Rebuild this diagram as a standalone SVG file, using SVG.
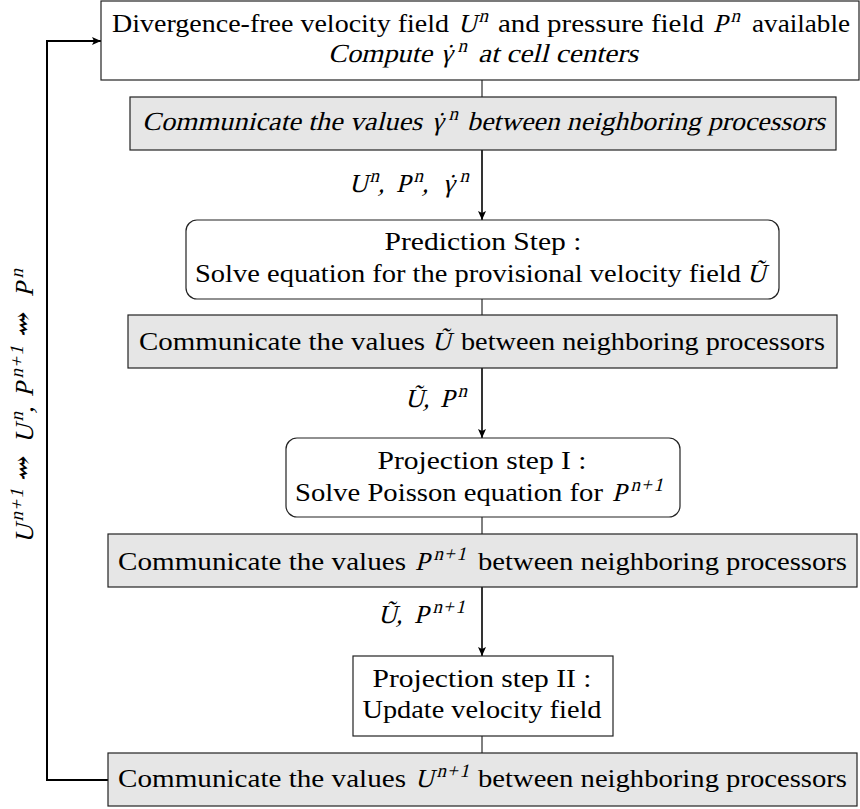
<svg xmlns="http://www.w3.org/2000/svg" width="860" height="809" viewBox="0 0 860 809">
<defs>
<marker id="ah" markerWidth="10" markerHeight="10" refX="9" refY="5" orient="auto" markerUnits="userSpaceOnUse">
<path d="M0,1 L9,5 L0,9 L2,5 z" fill="#000"/>
</marker>
<style>
.box{fill:#fff;stroke:#222;stroke-width:1.2}
.gray{fill:#e6e6e6;stroke:#222;stroke-width:1.2}
text{font-family:"Liberation Serif","DejaVu Serif",serif;font-size:26px;fill:#000}
.c{text-anchor:middle}
.s{font-size:19px}
.sq{font-size:30px}
.thin{stroke:#000;stroke-width:1;fill:none}
.arr{stroke:#000;stroke-width:1.6;fill:none;marker-end:url(#ah)}
.loop{stroke:#000;stroke-width:2;fill:none;marker-end:url(#ah)}
</style>
</defs>
<rect width="860" height="809" fill="#fff"/>

<g id="connectors">
<line class="thin" x1="482" y1="80" x2="482" y2="97"/>
<line class="arr" x1="482" y1="150" x2="482" y2="220"/>
<line class="thin" x1="482" y1="299" x2="482" y2="315"/>
<line class="arr" x1="482" y1="368" x2="482" y2="438"/>
<line class="thin" x1="482" y1="517" x2="482" y2="534"/>
<line class="arr" x1="482" y1="587" x2="482" y2="656"/>
<line class="thin" x1="482" y1="736" x2="482" y2="753"/>
<polyline class="loop" points="108,780 47,780 47,41 101,41"/>
<text transform="translate(0,192) skewX(-14)"><tspan x="349">U</tspan><tspan class="s" x="367" dy="-10">n</tspan><tspan x="378" dy="10">,</tspan><tspan x="396">P</tspan><tspan class="s" x="411" dy="-10">n</tspan><tspan x="422" dy="10">,</tspan><tspan x="443">γ</tspan><tspan dx="-9.5">˙</tspan><tspan class="s" x="457" dy="-10">n</tspan></text>
<text transform="translate(0,407) skewX(-14)"><tspan x="405">Ũ</tspan><tspan x="423">,</tspan><tspan x="440">P</tspan><tspan class="s" x="455" dy="-10">n</tspan></text>
<text transform="translate(0,623) skewX(-14)"><tspan x="378">Ũ</tspan><tspan x="396">,</tspan><tspan x="414">P</tspan><tspan class="s" x="430 440.5 453" dy="-10">n+1</tspan></text>
<text transform="translate(33,543) rotate(-90) skewX(-14)"><tspan x="0">U</tspan><tspan class="s" x="19 29.5 42" dy="-10">n+1</tspan><tspan class="sq" x="60" dy="10">⇝</tspan><tspan x="100">U</tspan><tspan class="s" x="119" dy="-10">n</tspan><tspan x="130" dy="10">,</tspan><tspan x="146">P</tspan><tspan class="s" x="162 172.5 185" dy="-10">n+1</tspan><tspan class="sq" x="204" dy="10">⇝</tspan><tspan x="246">P</tspan><tspan class="s" x="262" dy="-10">n</tspan></text>
</g>

<g id="start">
<rect class="box" x="101" y="1" width="758" height="79"/>
<text x="112" y="32" textLength="337" lengthAdjust="spacingAndGlyphs">Divergence-free velocity field</text>
<text transform="translate(458,32) skewX(-14)">U<tspan class="s" x="18" dy="-10">n</tspan></text>
<text x="498" y="32" textLength="206" lengthAdjust="spacingAndGlyphs">and pressure field</text>
<text transform="translate(713,32) skewX(-14)">P<tspan class="s" x="15" dy="-10">n</tspan></text>
<text x="752" y="32" textLength="98" lengthAdjust="spacingAndGlyphs">available</text>
<text transform="translate(328,62) skewX(-14)" textLength="104" lengthAdjust="spacingAndGlyphs">Compute</text>
<text transform="translate(441,62) skewX(-14)">γ<tspan dx="-9.5">˙</tspan><tspan class="s" x="14" dy="-10">n</tspan></text>
<text transform="translate(478,62) skewX(-14)" textLength="160" lengthAdjust="spacingAndGlyphs">at cell centers</text>
</g>

<g id="comm1">
<rect class="gray" x="130" y="97" width="706" height="53"/>
<text transform="translate(142,130) skewX(-14)" textLength="280" lengthAdjust="spacingAndGlyphs">Communicate the values</text>
<text transform="translate(432,130) skewX(-14)">γ<tspan dx="-9.5">˙</tspan><tspan class="s" x="14" dy="-10">n</tspan></text>
<text transform="translate(467,130) skewX(-14)" textLength="358" lengthAdjust="spacingAndGlyphs">between neighboring processors</text>
</g>

<g id="prediction">
<rect class="box" x="186" y="220" width="593" height="79" rx="11"/>
<text class="c" x="483" y="250" textLength="197" lengthAdjust="spacingAndGlyphs">Prediction Step :</text>
<text x="195" y="282" textLength="546" lengthAdjust="spacingAndGlyphs">Solve equation for the provisional velocity field</text>
<text transform="translate(747,282) skewX(-14)">Ũ</text>
</g>

<g id="comm2">
<rect class="gray" x="128" y="315" width="709" height="53"/>
<text x="139" y="350" textLength="286" lengthAdjust="spacingAndGlyphs">Communicate the values</text>
<text transform="translate(432,350) skewX(-14)">Ũ</text>
<text x="461" y="350" textLength="364" lengthAdjust="spacingAndGlyphs">between neighboring processors</text>
</g>

<g id="projection1">
<rect class="box" x="286" y="438" width="394" height="79" rx="11"/>
<text class="c" x="482" y="469" textLength="209" lengthAdjust="spacingAndGlyphs">Projection step I :</text>
<text x="295" y="501" textLength="308" lengthAdjust="spacingAndGlyphs">Solve Poisson equation for</text>
<text transform="translate(612,501) skewX(-14)">P<tspan class="s" x="16 26.5 39" dy="-10">n+1</tspan></text>
</g>

<g id="comm3">
<rect class="gray" x="108" y="534" width="749" height="53"/>
<text x="118" y="570" textLength="288" lengthAdjust="spacingAndGlyphs">Communicate the values</text>
<text transform="translate(415,570) skewX(-14)">P<tspan class="s" x="16 26.5 39" dy="-10">n+1</tspan></text>
<text x="478" y="570" textLength="369" lengthAdjust="spacingAndGlyphs">between neighboring processors</text>
</g>

<g id="projection2">
<rect class="box" x="353" y="656" width="260" height="80"/>
<text class="c" x="482" y="687" textLength="219" lengthAdjust="spacingAndGlyphs">Projection step II :</text>
<text class="c" x="482" y="718" textLength="239" lengthAdjust="spacingAndGlyphs">Update velocity field</text>
</g>

<g id="comm4">
<rect class="gray" x="108" y="753" width="749" height="53"/>
<text x="118" y="787" textLength="288" lengthAdjust="spacingAndGlyphs">Communicate the values</text>
<text transform="translate(415,787) skewX(-14)">U<tspan class="s" x="19 29.5 42" dy="-10">n+1</tspan></text>
<text x="478" y="787" textLength="369" lengthAdjust="spacingAndGlyphs">between neighboring processors</text>
</g>
</svg>
